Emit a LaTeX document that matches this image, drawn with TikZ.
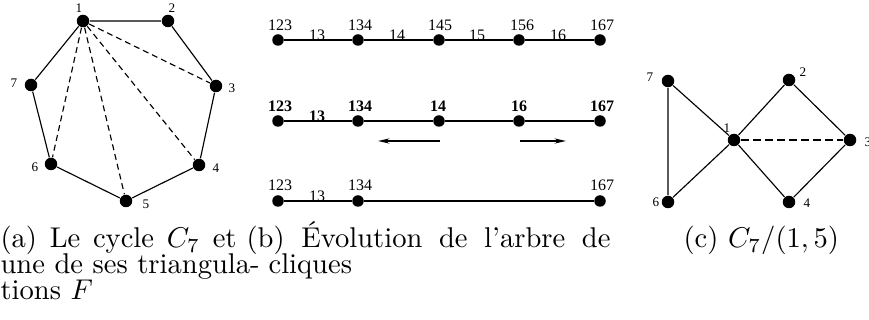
\documentclass[tikz,border=0pt]{standalone}
\usepackage{fontspec}
\newfontfamily\labfont{Liberation Serif}
\usetikzlibrary{arrows.meta}
\newlength\pxu
\setlength\pxu{0.35pt}
\begin{document}
\begin{tikzpicture}[x=\pxu, y=-\pxu,
  gdot/.style={circle, fill=black, inner sep=0pt, minimum size=12.5\pxu},
  rdot/.style={circle, fill=black, inner sep=0pt, minimum size=11.5\pxu},
  glab/.style={inner sep=0pt, font=\labfont\fontsize{4.6}{5}\selectfont},
  rlab/.style={inner sep=0pt, font=\labfont\fontsize{5.6}{6}\selectfont},
  blab/.style={inner sep=0pt, font=\labfont\bfseries\fontsize{5.6}{6}\selectfont},
  sedge/.style={line width=0.4pt},
  redge/.style={line width=0.5pt},
  bedge/.style={line width=0.8pt},
  dsh/.style={line width=0.4pt, dash pattern=on 2.1pt off 1.4pt},
  tdsh/.style={line width=0.85pt, dash pattern=on 2.8pt off 1.4pt},
  arr/.style={line width=0.6pt, -{Stealth[length=4pt,width=1.8pt]}},
  captxt/.style={inner sep=0pt, anchor=base west, font=\fontsize{10}{12}\selectfont}
]
\useasboundingbox (0,0) rectangle (869,320);

% ---------- (a) cycle C7 with triangulation ----------
\node[gdot] (a1) at (83,21) {};
\node[gdot] (a2) at (168,21) {};
\node[gdot] (a3) at (216,86) {};
\node[gdot] (a4) at (199,165) {};
\node[gdot] (a5) at (126,201) {};
\node[gdot] (a6) at (51,164) {};
\node[gdot] (a7) at (31,85) {};
\node[glab] (la1) at (79,8) {1};
\node[glab] (la2) at (172,8) {2};
\node[glab] (la3) at (232,88) {3};
\node[glab] (la4) at (216,168) {4};
\node[glab] (la5) at (146,204) {5};
\node[glab] (la6) at (35,167) {6};
\node[glab] (la7) at (14,83) {7};
\draw[sedge] (a1)--(a2) (a2)--(a3) (a3)--(a4) (a4)--(a5) (a5)--(a6) (a6)--(a7) (a7)--(a1);
\draw[dsh] (a1)--(a3);
\draw[dsh] (a1)--(a4);
\draw[dsh] (a1)--(a5);
\draw[dsh] (a1)--(a6);

% ---------- (b) evolution of the clique tree ----------
% row 1
\node[rdot] (p1) at (278,40) {};
\node[rdot] (p2) at (358,40) {};
\node[rdot] (p3) at (439,40) {};
\node[rdot] (p4) at (519,40) {};
\node[rdot] (p5) at (600,40) {};
\draw[redge] (p1)--(p2)--(p3)--(p4)--(p5);
\node[rlab] (lp1) at (280,25) {123};
\node[rlab] (lp2) at (360,25) {134};
\node[rlab] (lp3) at (440,25) {145};
\node[rlab] (lp4) at (522,25) {156};
\node[rlab] (lp5) at (602,25) {167};
\node[rlab] (ep1) at (317,35) {13};
\node[rlab] (ep2) at (397,35) {14};
\node[rlab] (ep3) at (477,35) {15};
\node[rlab] (ep4) at (558,35) {16};
% row 2
\node[rdot] (q1) at (278,121) {};
\node[rdot] (q2) at (358,121) {};
\node[rdot] (q3) at (439,121) {};
\node[rdot] (q4) at (519,121) {};
\node[rdot] (q5) at (600,121) {};
\draw[bedge] (q1)--(q2)--(q3)--(q4)--(q5);
\node[blab] (lq1) at (280,106) {123};
\node[blab] (lq2) at (360,106) {134};
\node[blab] (lq3) at (438,106) {14};
\node[blab] (lq4) at (519,106) {16};
\node[blab] (lq5) at (602,106) {167};
\node[blab] (eq1) at (317,116) {13};
\coordinate (al) at (378,141);
\coordinate (ar) at (440,141);
\coordinate (bl) at (520,141);
\coordinate (br) at (566,141);
\draw[arr] (ar) -- (al);
\draw[arr] (bl) -- (br);
% row 3
\node[rdot] (s1) at (278,201) {};
\node[rdot] (s2) at (358,201) {};
\node[rdot] (s5) at (600,201) {};
\draw[redge] (s1)--(s2)--(s5);
\node[rlab] (ls1) at (280,185) {123};
\node[rlab] (ls2) at (360,185) {134};
\node[rlab] (ls5) at (602,185) {167};
\node[rlab] (es1) at (317,196) {13};

% ---------- (c) C7/(1,5) ----------
\node[gdot] (c7) at (668,81) {};
\node[gdot] (c2) at (789,80) {};
\node[gdot] (c1) at (734,140) {};
\node[gdot] (c3) at (850,140) {};
\node[gdot] (c6) at (668,202) {};
\node[gdot] (c4) at (789,202) {};
\node[glab] (lc7) at (650,77) {7};
\node[glab] (lc2) at (803,72) {2};
\node[glab] (lc1) at (727,128) {1};
\node[glab] (lc3) at (868,142) {3};
\node[glab] (lc6) at (656,202) {6};
\node[glab] (lc4) at (807,203) {4};
\draw[sedge] (c7)--(c6) (c7)--(c1) (c6)--(c1) (c1)--(c2) (c2)--(c3) (c3)--(c4) (c4)--(c1);
\draw[tdsh] (c1)--(c3);

% ---------- captions ----------
\node[captxt] (ca1) at (0,248) {\makebox[236\pxu][s]{(a) Le cycle $C_7$ et}};
\node[captxt] (ca2) at (0,274) {une de ses triangula-};
\node[captxt] (ca3) at (0,300) {tions $F$};
\node[captxt] (cb1) at (246,248) {\makebox[364\pxu][s]{(b) Évolution de l'arbre de}};
\node[captxt] (cb2) at (268,274) {cliques};
\node[captxt] (cc1) at (683,248) {(c) $C_7/(1,5)$};
\end{tikzpicture}
\end{document}
